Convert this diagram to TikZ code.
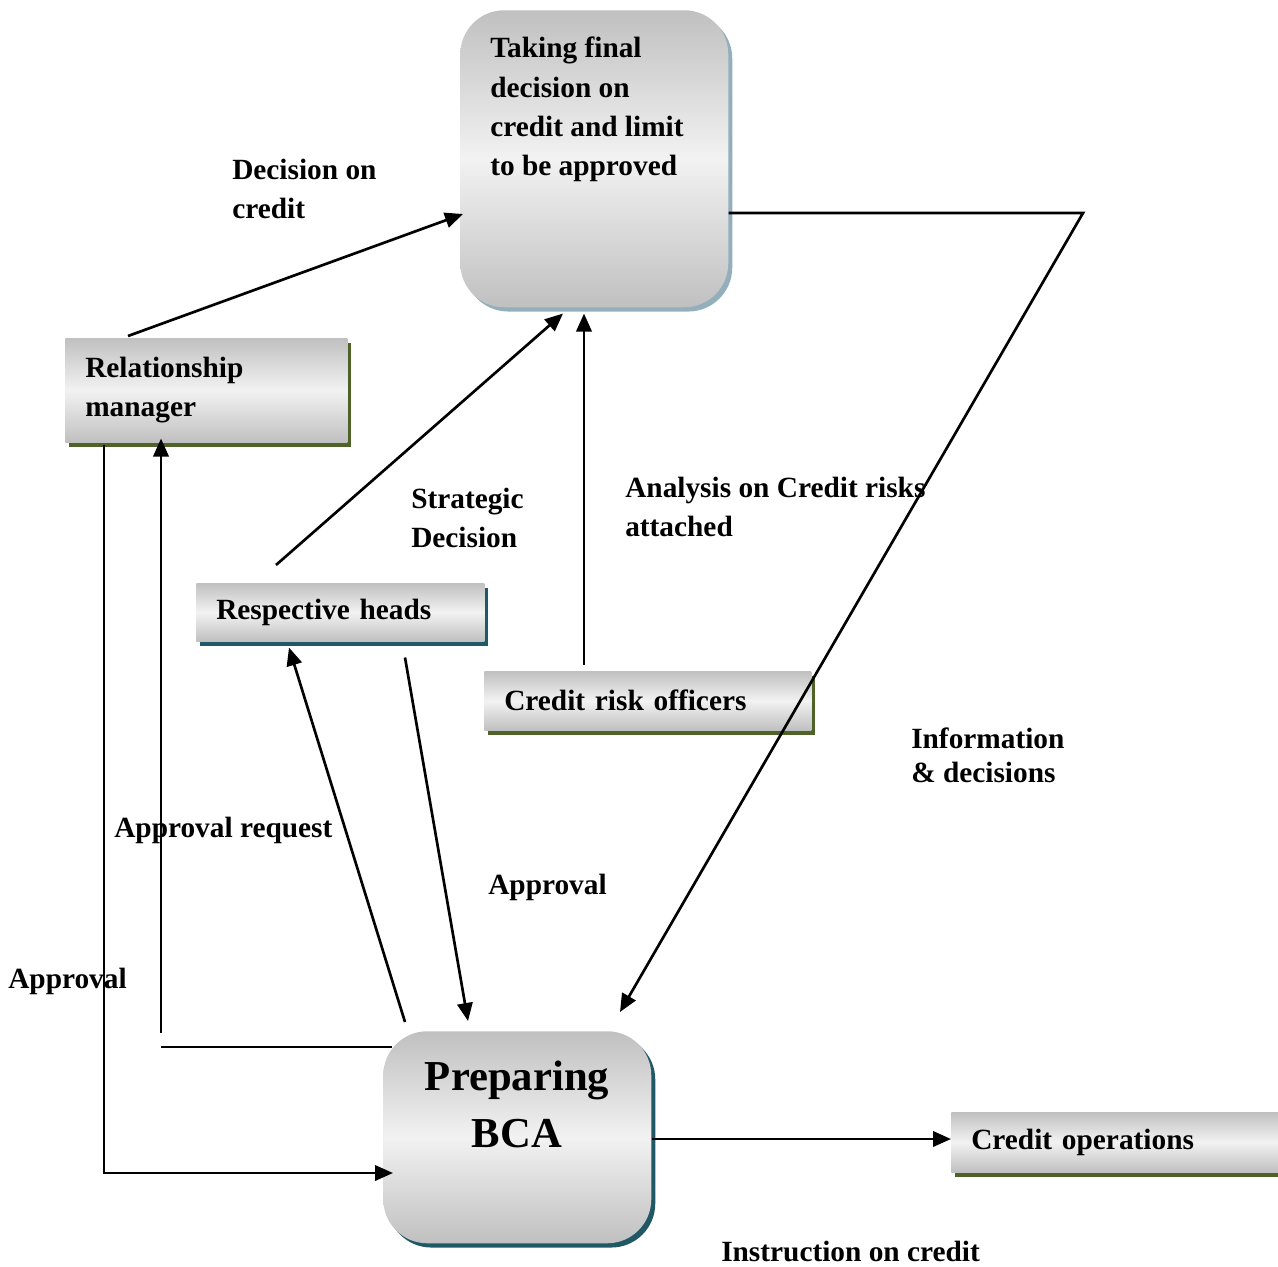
\documentclass[tikz,border=0pt]{standalone}
\usepackage{fontspec}
\setmainfont{Liberation Serif}
\usetikzlibrary{arrows.meta,calc,shadows}
\definecolor{boxgray}{HTML}{C0C0C0}
\definecolor{boxlight}{HTML}{F2F2F2}
\definecolor{olivedark}{HTML}{4F6228}
\definecolor{tealdark}{HTML}{215868}
\definecolor{steelgray}{HTML}{93AFBB}
\begin{document}
\begin{tikzpicture}[x=0.75pt,y=-0.75pt,
  font=\bfseries\fontsize{22}{29.5}\selectfont,
  shadebox/.style={top color=boxgray,bottom color=boxgray,middle color=boxlight,draw=none,
    anchor=north west,inner xsep=15pt,inner ysep=0pt,align=left},
  olivebox/.style={shadebox,general shadow={fill=olivedark,shadow xshift=3pt,shadow yshift=-3.2pt}},
  tealbox/.style={shadebox,general shadow={fill=tealdark,shadow xshift=3pt,shadow yshift=-3.2pt}},
  roundbox/.style={shadebox,rounded corners=33pt,inner sep=0pt},
  flow/.style={line width=2pt,-{Triangle[length=13.5pt,width=11.5pt]}},
  plain/.style={line width=2pt},
  lbl/.style={anchor=north west,inner sep=0pt,align=left}]
  \useasboundingbox (0,0) rectangle (1278,1267);

  \node[roundbox,general shadow={fill=steelgray,shadow xshift=3pt,shadow yshift=-3.2pt},
    minimum width=201pt,minimum height=222.75pt] (dec) at (460,10) {};
  \node[lbl] (dec-txt) at (490,37) {Taking final\\decision on\\credit and limit\\to be approved};
  \node[olivebox,text width=181.5pt,minimum height=78pt] (rm) at (65,338) {Relationship\\manager};
  \node[tealbox,text width=186pt,minimum height=43.5pt] (heads) at (196,583) {Respective heads};
  \node[olivebox,text width=215.25pt,minimum height=44.25pt] (cro) at (484,671) {Credit risk officers};
  \node[roundbox,general shadow={fill=tealdark,shadow xshift=3pt,shadow yshift=-3.2pt},
    minimum width=201pt,minimum height=159pt] (bca) at (383,1031) {};
  \node[anchor=north,align=center,inner sep=0pt,font=\bfseries\fontsize{32}{42.75}\selectfont]
    (bca-txt) at (517,1061) {Preparing\\BCA};
  \node[olivebox,text width=215.25pt,minimum height=45pt] (ops) at (951,1112) {Credit operations};

  \coordinate (turn) at (1083,213);
  \coordinate (ret-corner) at (161,1047);
  \coordinate (ret-foot) at (161,1033);
  \coordinate (app-corner) at (104,1173);

  \draw[flow] ($(rm.north west)+(63,-2)$) -- ($(dec.north west)+(3,204)$);
  \draw[flow] ($(heads.north west)+(80,-18)$) -- ($(dec.south west)+(103,6)$);
  \draw[flow] ($(cro.north west)+(100,-6)$) -- ($(dec.south west)+(124,6)$);
  \draw[flow] ($(dec.north east)+(0,203)$) -- (turn) -- ($(bca.north west)+(237,-19)$);
  \draw[flow] ($(bca.north west)+(22,-9)$) -- ($(heads.south west)+(93,6)$);
  \draw[flow] ($(heads.south west)+(209,16)$) -- ($(bca.north west)+(85,-10)$);
  \draw[plain] ($(bca.north west)+(9,16)$) -- (ret-corner);
  \draw[flow] (ret-foot) -- ($(rm.south west)+(96,-4)$);
  \draw[flow] ($(rm.south west)+(39,2)$) -- (app-corner) -- ($(bca.north west)+(10,142)$);
  \draw[flow] ($(bca.north east)+(0,108)$) -- ($(ops.north west)+(0,27)$);

  \node[lbl] (dcr-lbl) at (232,159) {Decision on\\credit};
  \node[lbl] (sdec-lbl) at (411,488) {Strategic\\Decision};
  \node[lbl] (anl-lbl) at (625,477) {Analysis on Credit risks\\attached};
  \node[lbl,font=\bfseries\fontsize{22}{25.5}\selectfont] (info-lbl) at (911,728) {Information\\\& decisions};
  \node[lbl] (areq-lbl) at (114,817) {Approval request};
  \node[lbl] (appr-lbl) at (488,874) {Approval};
  \node[lbl] (apprl-lbl) at (8,968) {Approval};
  \node[lbl] (instr-lbl) at (721,1241) {Instruction on credit};
\end{tikzpicture}
\end{document}
